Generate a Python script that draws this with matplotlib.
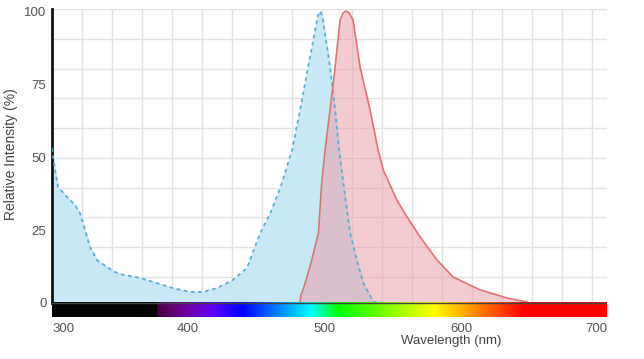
import numpy as np
import matplotlib
matplotlib.use("Agg")
import matplotlib.pyplot as plt

plt.rcParams['font.family'] = ['Liberation Sans', 'DejaVu Sans']

# excitation spectrum (blue, dotted edge)
ex_wl = [301, 303.2, 305.4, 312, 317.8, 321.4, 325.1, 328.7, 333.8, 341.1, 347,
         350.6, 365.2, 377.6, 389.3, 401.7, 411.2, 421.4, 433.1, 443.3, 447.7,
         453, 460.1, 468, 476.2, 482, 487.9, 495, 496.6, 498.2, 503.9, 507.6,
         510.5, 513.6, 518.5, 523.4, 528.2, 535.5, 545]
ex_val = [53, 45.5, 39.7, 36.3, 33.6, 30.8, 25, 19.2, 14.7, 12.3, 10.6,
          9.9, 8.6, 6.8, 5.1, 3.8, 3.8, 5.1, 7.9, 12, 17.5,
          24, 30.5, 40, 52.4, 66.1, 80.8, 98.3, 100, 98.3, 80.8, 66.1,
          52.4, 41, 24, 14.7, 6.8, 0.4, 0]

# emission spectrum (red, solid edge)
em_wl = [482, 482.5, 483.3, 485.7, 490.6, 495.4, 497.8, 500.3, 503.9, 507.6,
         511.2, 513.5, 515.6, 517.8, 520.7, 525.8, 533.1, 539, 542.8, 552.6,
         559.9, 569.6, 582, 593.7, 613.4, 633.1, 647.7]
em_val = [0, 2.5, 3.4, 6.8, 14.7, 24, 41, 52.4, 66.1, 80.8,
          96.9, 99.4, 100, 99.4, 96.9, 80.8, 66.1, 52.4, 45.5, 35.3,
          29.6, 22.6, 14.7, 8.9, 4.5, 1.7, 0.3]

xticks = [300, 400, 500, 600, 700]
yticks = [0, 25, 50, 75, 100]
xmin, xmax = 301, 706
ymin, ymax = -4.8, 100.7


def wavelength_rgb(w):
    # rough visible-spectrum colour, black below 380 nm
    if w < 378:
        return (0, 0, 0)
    if w < 440:
        r, g, b = -(w - 440) / 60, 0, 1
    elif w < 490:
        r, g, b = 0, (w - 440) / 50, 1
    elif w < 510:
        r, g, b = 0, 1, -(w - 510) / 20
    elif w < 580:
        r, g, b = (w - 510) / 70, 1, 0
    elif w < 645:
        r, g, b = 1, -(w - 645) / 65, 0
    else:
        r, g, b = 1, 0, 0
    f = 0.3 + 0.7 * (w - 380) / 40 if w < 420 else 1.0
    return (r * f, g * f, b * f)


fig = plt.figure(figsize=(6.44, 3.59), dpi=100)
ax = fig.add_axes([52 / 644, 1 - 317 / 359, 555 / 644, 308 / 359])

# grid
ax.set_xticks(np.arange(xmin, xmax, 21.9), minor=True)
ax.set_yticks(np.arange(ymax, 0, -10.2), minor=True)
ax.grid(which='minor', color='#e3e3e3', linewidth=1)
ax.tick_params(which='minor', length=0)

ax.fill_between(ex_wl, ex_val, 0, color='#c9e8f6', zorder=2)
ax.plot(ex_wl, ex_val, color='#5aaed3', lw=1.3, ls=(0, (2, 2)), zorder=4)
ax.fill_between(em_wl, em_val, 0, color='#eb9ca8', alpha=0.52, lw=0, zorder=3)
ax.plot(em_wl, em_val, color='#e07272', lw=1.2, zorder=4)

# spectrum bar under the axis
wl = np.linspace(xmin, xmax, 600)
bar = np.array([[wavelength_rgb(w) for w in wl]])
ax.imshow(bar, extent=(xmin, xmax, ymin, 0), aspect='auto', zorder=5)
ax.axhline(0, color='#444444', lw=1, zorder=6)

ax.set_xlim(xmin, xmax)
ax.set_ylim(ymin, ymax)

ax.set_xticks([xmin, 400, 500, 600, xmax])
ax.set_xticklabels([str(t) for t in xticks])
labels = ax.get_xticklabels()
labels[0].set_ha('left')
labels[-1].set_ha('right')
ax.set_yticks(yticks)
ax.tick_params(axis='both', which='major', length=0, labelsize=9.5,
               labelcolor='#555555', pad=4)

for s in ['top', 'right', 'bottom']:
    ax.spines[s].set_visible(False)
ax.spines['left'].set_color('#111111')
ax.spines['left'].set_linewidth(2)
ax.spines['left'].set_bounds(0, ymax)

ax.set_xlabel('Wavelength (nm)', fontsize=9.5, color='#444444')
ax.xaxis.set_label_coords(0.72, -0.06)
ax.set_ylabel('Relative Intensity (%)', fontsize=10, color='#444444')
ax.yaxis.set_label_coords(-0.062, 0.53)

fig.savefig('out.png', dpi=100)
